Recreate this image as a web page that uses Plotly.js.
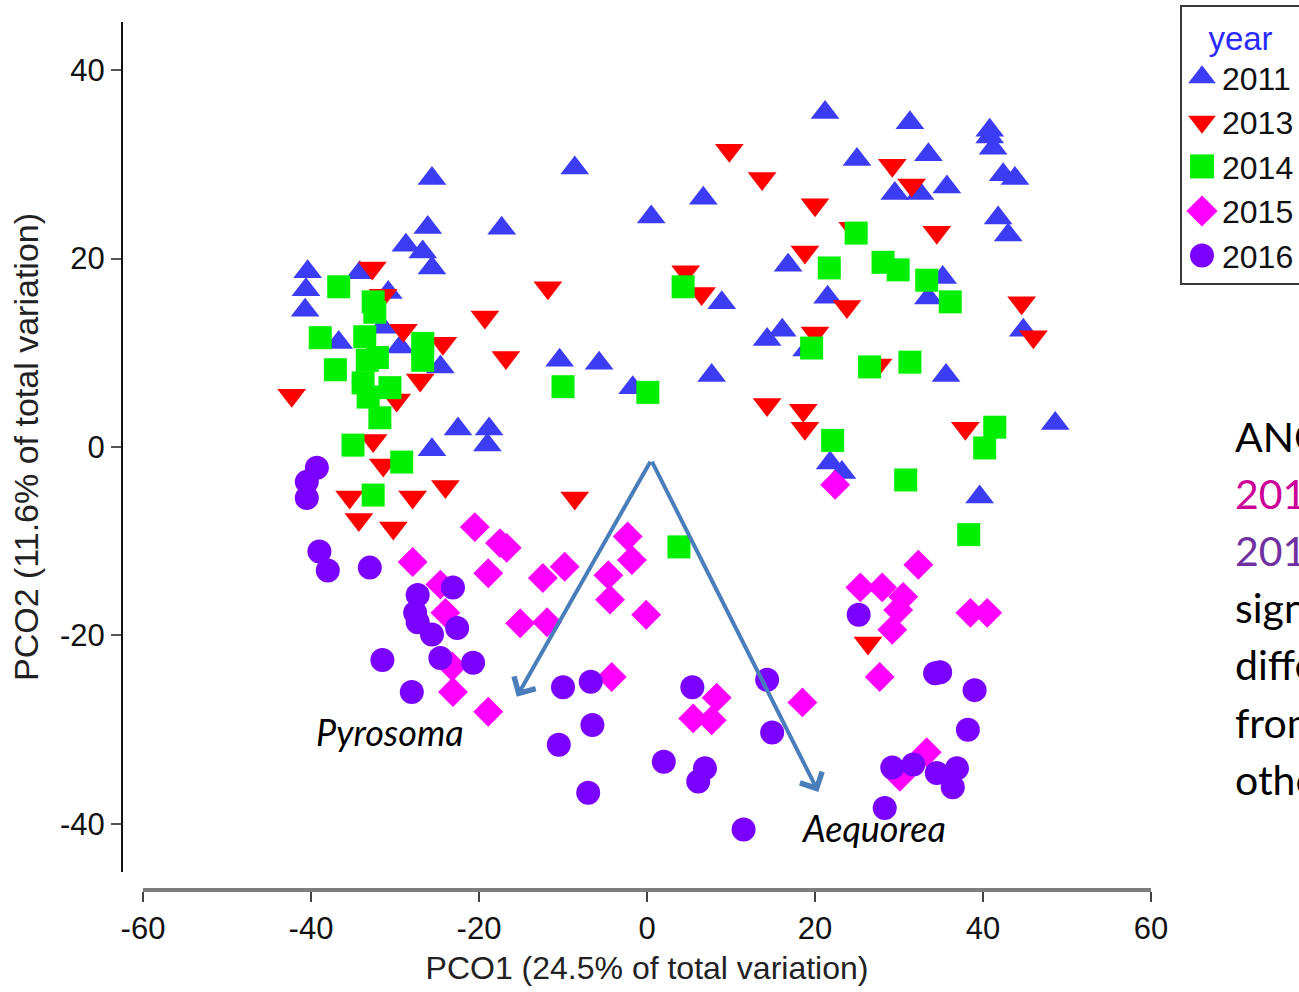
<!DOCTYPE html>
<html>
<head>
<meta charset="utf-8">
<script src="https://cdn.plot.ly/plotly-3.0.1.min.js"></script>
<style>
  html, body { margin: 0; padding: 0; background: #fff; overflow: hidden; }
  #chart { width: 1299px; height: 992px; }
</style>
</head>
<body>
<div id="chart"></div>
<script>
// PCO ordination of samples, coloured and shaped by sampling year
const years = ['2011', '2013', '2014', '2015', '2016'];

const x2011 = [-40.4,-40.6,-40.7,-34.2,-30.8,-28.7,-26.1,-25.6,-17.3,-26.7,-25.6,-36.7,-31.5,-29.4,-24.6,-22.5,-18.8,-19.0,-25.6,-8.6,0.5,6.7,-10.4,-5.7,-1.7,7.7,8.9,14.3,16.1,16.8,21.2,25.0,31.3,33.5,29.5,32.5,35.7,40.8,40.8,41.2,42.4,43.8,41.8,43.0,21.5,35.2,33.5,19.0,35.6,48.6,44.8,21.8,23.2,39.6];
const y2011 = [18.6,16.7,14.5,18.5,16.4,21.4,23.3,28.5,23.2,20.7,19.0,11.1,12.7,10.6,8.5,1.9,1.9,0.2,-0.3,29.6,24.4,26.4,9.2,8.9,6.3,7.6,15.3,11.4,12.4,19.3,35.5,30.5,34.4,31.0,26.9,26.9,27.6,33.6,32.9,31.7,28.9,28.5,24.3,22.5,15.9,18.0,15.8,10.3,7.6,2.5,12.4,-1.7,-2.7,-5.3];

const x2013 = [-42.3,-32.7,-31.4,-29.0,-27.0,-24.3,-19.3,-16.8,-11.8,-29.8,-32.6,-31.4,-35.4,-34.3,-30.2,-27.9,-24.0,-8.6,9.8,13.7,20.0,18.8,4.6,6.5,14.3,18.6,18.8,24.5,23.8,29.2,31.5,34.5,20.0,27.5,44.6,46.0,37.9,26.3];
const y2013 = [5.5,19.0,16.1,12.4,7.1,11.0,13.8,9.5,16.9,5.0,0.7,-1.9,-5.3,-7.7,-8.6,-5.3,-4.2,-5.4,31.5,28.5,25.7,20.7,18.6,16.3,4.5,3.9,2.0,23.2,14.9,29.9,27.8,22.8,12.1,8.7,15.3,11.7,2.0,-20.8];

const x2014 = [-36.7,-32.6,-32.4,-38.9,-37.1,-33.6,-33.3,-33.8,-33.2,-32.1,-26.7,-26.7,-30.6,-31.8,-35.0,-29.2,-32.6,4.3,-10.0,0.1,3.8,24.9,21.7,28.1,29.9,33.3,36.1,19.6,26.5,31.3,22.1,30.8,41.4,40.2,38.3];
const y2014 = [17.0,15.4,14.3,11.6,8.2,11.7,9.2,6.8,5.3,9.5,11.0,9.2,6.3,3.1,0.2,-1.6,-5.1,17.0,6.4,5.8,-10.6,22.7,19.0,19.6,18.8,17.7,15.4,10.5,8.5,9.0,0.7,-3.5,2.1,-0.1,-9.3];

const x2015 = [-27.9,-24.6,-24.0,-23.2,-23.1,-20.5,-18.9,-18.9,-17.5,-16.7,-15.1,-12.4,-11.9,-9.8,-4.6,-4.4,-4.2,-2.3,-1.8,-0.1,5.5,7.7,8.3,18.5,22.4,25.4,28.0,30.5,29.9,29.2,27.7,32.3,38.5,40.5,33.3,30.1];
const y2015 = [-12.2,-14.6,-17.6,-23.3,-26.0,-8.5,-13.4,-28.1,-10.2,-10.7,-18.7,-13.9,-18.6,-12.7,-13.6,-16.2,-24.4,-9.5,-12.0,-17.8,-28.8,-29.0,-26.6,-27.1,-4.0,-14.9,-14.9,-15.9,-17.3,-19.4,-24.4,-12.5,-17.6,-17.6,-32.4,-35.0];

const x2016 = [-39.3,-40.5,-40.5,-39.0,-38.0,-33.0,-27.3,-27.6,-27.3,-25.6,-23.1,-22.6,-24.6,-20.7,-31.5,-28.0,-10.0,-6.7,-6.5,-10.5,-7.0,5.4,2.0,6.9,6.1,14.3,14.9,11.5,25.2,34.3,34.9,39.0,38.2,29.2,31.7,34.5,36.9,36.4,28.3];
const y2016 = [-2.2,-3.7,-5.4,-11.1,-13.1,-12.8,-15.7,-17.6,-18.6,-19.9,-14.9,-19.2,-22.4,-22.9,-22.6,-26.0,-25.5,-24.9,-29.5,-31.6,-36.7,-25.5,-33.4,-34.1,-35.5,-24.7,-30.3,-40.6,-17.8,-24.0,-23.9,-25.8,-30.0,-34.0,-33.7,-34.6,-34.1,-36.1,-38.3];

const xTickVals = [-60, -40, -20, 0, 20, 40, 60];
const xTickText = ['-60', '-40', '-20', '0', '20', '40', '60'];
const yTickVals = [-40, -20, 0, 20, 40];
const yTickText = ['-40', '-20', '0', '20', '40'];

// species vectors: origin and tips, in PCO units
const vectorOrigin = [0.5, -1.4];
const pyrosomaTip = [-15.5, -26.5];
const aequoreaTip = [20.4, -36.6];

const arial = '"Liberation Sans", Arial, sans-serif';
const calibriLike = 'Lato, "Open Sans", sans-serif';

const series = [
  { name: years[0], x: x2011, y: y2011, symbol: 'triangle-up',   color: '#3c3cf4', size: 25 },
  { name: years[1], x: x2013, y: y2013, symbol: 'triangle-down', color: '#ff0000', size: 25 },
  { name: years[2], x: x2014, y: y2014, symbol: 'square',        color: '#00f000', size: 23 },
  { name: years[3], x: x2015, y: y2015, symbol: 'diamond',       color: '#ff00ff', size: 23 },
  { name: years[4], x: x2016, y: y2016, symbol: 'circle',        color: '#7a00ff', size: 24 }
];

const traces = series.map(s => ({
  type: 'scatter',
  mode: 'markers',
  name: s.name,
  x: s.x,
  y: s.y,
  marker: { symbol: s.symbol, color: s.color, size: s.size, line: { width: 0 } },
  hoverinfo: 'x+y+name'
}));

const sideLines = [
  { text: 'ANOSIM:',       color: '#000000', y: 436 },
  { text: '2015 and',      color: '#cc0099', y: 493 },
  { text: '2016 are',      color: '#7030a0', y: 550 },
  { text: 'significantly', color: '#000000', y: 607 },
  { text: 'different',     color: '#000000', y: 664 },
  { text: 'from',          color: '#000000', y: 722 },
  { text: 'other years',   color: '#000000', y: 779 }
];

const annotations = [
  {
    xref: 'x', yref: 'y', axref: 'x', ayref: 'y',
    x: pyrosomaTip[0], y: pyrosomaTip[1], ax: vectorOrigin[0], ay: vectorOrigin[1],
    text: '', showarrow: true, arrowhead: 4, arrowsize: 1.2, arrowwidth: 4, arrowcolor: '#4a7ebb'
  },
  {
    xref: 'x', yref: 'y', axref: 'x', ayref: 'y',
    x: aequoreaTip[0], y: aequoreaTip[1], ax: vectorOrigin[0], ay: vectorOrigin[1],
    text: '', showarrow: true, arrowhead: 4, arrowsize: 1.2, arrowwidth: 4, arrowcolor: '#4a7ebb'
  },
  {
    xref: 'x', yref: 'y', x: -30.6, y: -30.2, showarrow: false,
    text: '<i>Pyrosoma</i>', font: { family: calibriLike, size: 36, color: '#000' }
  },
  {
    xref: 'x', yref: 'y', x: 27.0, y: -40.4, showarrow: false,
    text: '<i>Aequorea</i>', font: { family: calibriLike, size: 36, color: '#000' }
  }
].concat(sideLines.map(l => ({
  xref: 'paper', yref: 'paper',
  x: (1233 - 122) / 1029, y: (890 - l.y) / 868,
  xanchor: 'left', yanchor: 'middle', showarrow: false,
  text: l.text, font: { family: calibriLike, size: 41, color: l.color }
})));

const layout = {
  width: 1299,
  height: 992,
  margin: { l: 122, r: 148, t: 22, b: 102, pad: 0, autoexpand: false },
  paper_bgcolor: '#ffffff',
  plot_bgcolor: '#ffffff',
  showlegend: true,
  legend: {
    x: (1180 - 122) / 1029, xanchor: 'left',
    y: (890 - 5) / 868, yanchor: 'top',
    bgcolor: '#ffffff', bordercolor: '#3a3a3a', borderwidth: 2,
    font: { family: arial, size: 32, color: '#111' },
    title: { text: 'year', side: 'top center', font: { family: arial, size: 33, color: '#2a2aff' } },
    itemsizing: 'trace', tracegroupgap: 0
  },
  xaxis: {
    domain: [21 / 1029, 1], anchor: 'free', position: 0,
    range: [-60, 60], tickmode: 'array', tickvals: xTickVals, ticktext: xTickText,
    ticks: 'outside', ticklen: 10, tickwidth: 2, tickcolor: '#444',
    showline: true, linecolor: '#7d7d7d', linewidth: 4,
    showgrid: false, zeroline: false,
    tickfont: { family: arial, size: 31, color: '#111' },
    title: { text: 'PCO1 (24.5% of total variation)', font: { family: arial, size: 32, color: '#222' }, standoff: 10 }
  },
  yaxis: {
    domain: [18 / 868, 1], anchor: 'free', position: 0,
    range: [-45.1, 45.1], tickmode: 'array', tickvals: yTickVals, ticktext: yTickText,
    ticks: 'outside', ticklen: 10, tickwidth: 2, tickcolor: '#555',
    showline: true, linecolor: '#111', linewidth: 2,
    showgrid: false, zeroline: false,
    tickfont: { family: arial, size: 31, color: '#111' },
    title: { text: 'PCO2 (11.6% of total variation)', font: { family: arial, size: 34, color: '#222' }, standoff: 10 }
  },
  annotations: annotations
};

Plotly.newPlot('chart', traces, layout, { displayModeBar: false, staticPlot: true }).then(gd => {
  // enlarge the year symbols in the key so they read like the plotted markers
  gd.querySelectorAll('.legend path.scatterpts').forEach(p => {
    const t = p.getAttribute('transform') || '';
    p.setAttribute('transform', t + ' scale(1.5)');
  });
});
</script>
</body>
</html>
